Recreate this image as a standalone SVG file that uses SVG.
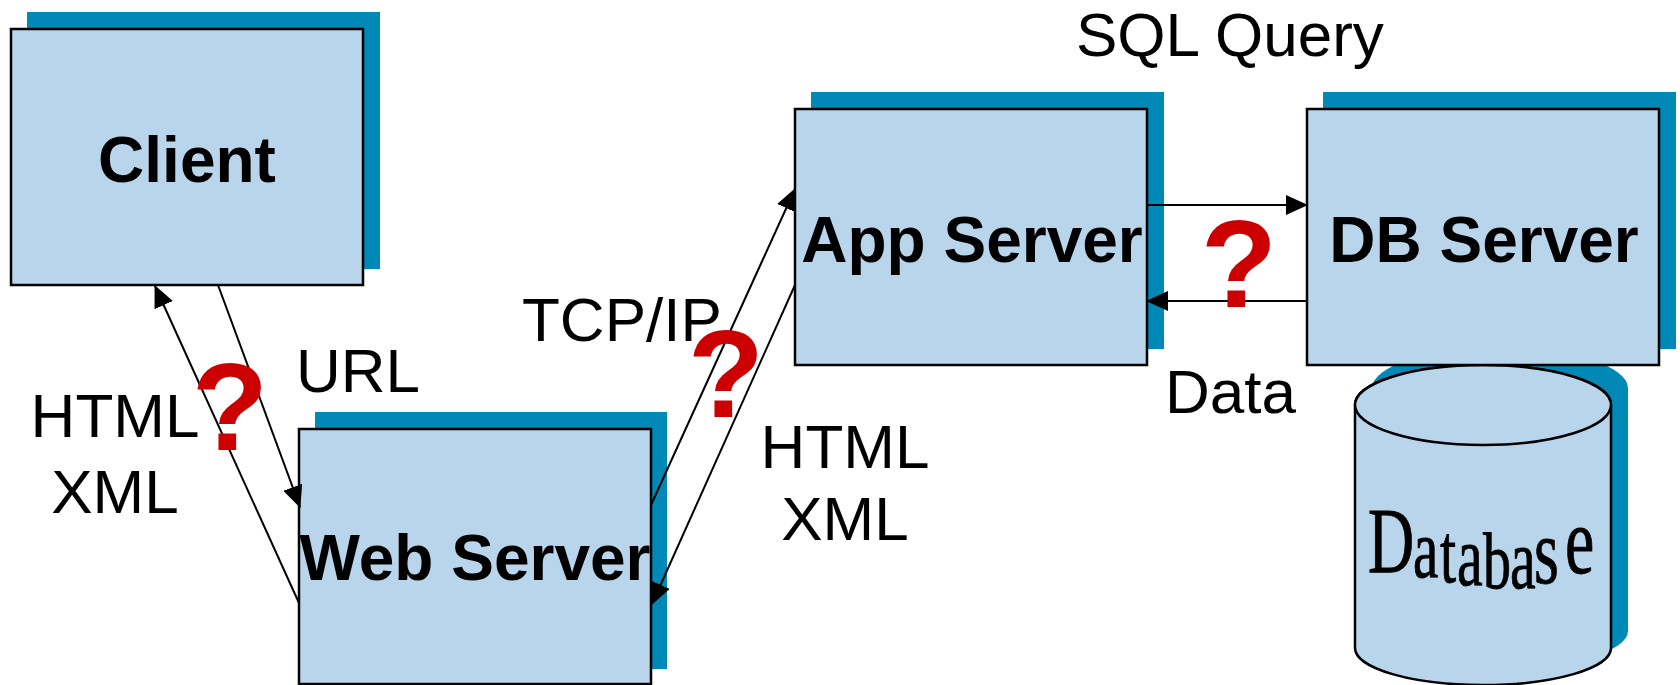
<svg xmlns="http://www.w3.org/2000/svg" width="1680" height="685" viewBox="0 0 1680 685">
  <style>
    .shadow { fill: #0089B7; }
    .box { fill: #B9D5EC; stroke: #000; stroke-width: 2.5; }
    .title { font-family: "Liberation Sans", Arial, sans-serif; font-weight: bold; font-size: 64px; fill: #000; text-anchor: middle; }
    .label { font-family: "Liberation Sans", Arial, sans-serif; font-size: 62px; fill: #000; }
    .mid { text-anchor: middle; }
    .ask { font-family: "Liberation Sans", Arial, sans-serif; font-weight: bold; font-size: 125px; fill: #CC0000; text-anchor: middle; }
    .link { fill: none; stroke: #000; stroke-width: 2; }
    .db { font-family: "Liberation Serif", "Times New Roman", serif; fill: #000; stroke: #000; stroke-width: 0.6; }
  </style>
  <defs>
    <marker id="head" markerUnits="userSpaceOnUse" markerWidth="22" markerHeight="20" viewBox="0 0 22 20" refX="21" refY="10" orient="auto">
      <path d="M0,0 L22,10 L0,20 z" fill="#000"/>
    </marker>
  </defs>

  <rect width="1680" height="685" fill="#fff"/>

  <!-- Client -->
  <g id="client">
    <rect class="shadow" x="27" y="12" width="353" height="257"/>
    <rect class="box" x="11" y="29" width="352" height="256"/>
    <text class="title" x="187" y="182">Client</text>
  </g>

  <!-- Web Server -->
  <g id="web-server">
    <rect class="shadow" x="315" y="412" width="352" height="257"/>
    <rect class="box" x="299" y="429" width="352" height="255"/>
    <text class="title" x="475" y="580" font-size="63">Web Server</text>
  </g>

  <!-- App Server -->
  <g id="app-server">
    <rect class="shadow" x="811" y="92" width="353" height="257"/>
    <rect class="box" x="795" y="109" width="352" height="256"/>
    <text class="title" x="972" y="262">App Server</text>
  </g>

  <!-- Database cylinder, with wave-styled lettering -->
  <g id="database">
    <path class="shadow" d="M1372,388 V631 A128,37 0 0 0 1628,631 V388 A128,40 0 0 0 1372,388 Z"/>
    <path class="box" d="M1355,405 V648 A128,37 0 0 0 1611,648 V405 A128,40 0 0 0 1355,405 Z"/>
    <ellipse class="box" cx="1483" cy="405" rx="128" ry="40"/>
    <text class="db" transform="scale(1,1.45)">
      <tspan x="1368" y="394.5" font-size="64">D</tspan>
      <tspan x="1413" y="397.9" font-size="57">a</tspan>
      <tspan x="1440" y="401.4" font-size="58">t</tspan>
      <tspan x="1457" y="403.4" font-size="58">a</tspan>
      <tspan x="1483" y="405.5" font-size="56">b</tspan>
      <tspan x="1510" y="405.5" font-size="58">a</tspan>
      <tspan x="1534" y="402.1" font-size="64">s</tspan>
      <tspan x="1565" y="395.2" font-size="66">e</tspan>
    </text>
  </g>

  <!-- DB Server -->
  <g id="db-server">
    <rect class="shadow" x="1323" y="92" width="353" height="257"/>
    <rect class="box" x="1307" y="109" width="352" height="256"/>
    <text class="title" x="1484" y="262">DB Server</text>
  </g>

  <!-- Connectors -->
  <g id="connectors">
    <line class="link" x1="218" y1="285" x2="300" y2="507" marker-end="url(#head)"/>
    <line class="link" x1="299" y1="603" x2="155" y2="286" marker-end="url(#head)"/>
    <line class="link" x1="651" y1="505" x2="795" y2="189" marker-end="url(#head)"/>
    <line class="link" x1="795" y1="285" x2="652" y2="604" marker-end="url(#head)"/>
    <line class="link" x1="1147" y1="205" x2="1307" y2="205" marker-end="url(#head)"/>
    <line class="link" x1="1307" y1="301" x2="1147" y2="301" marker-end="url(#head)"/>
  </g>

  <!-- Labels -->
  <g id="labels">
    <text class="label" x="1076" y="56" font-size="63">SQL Query</text>
    <text class="label" x="522" y="341" font-size="63">TCP/IP</text>
    <text class="label" x="296" y="392">URL</text>
    <text class="label mid" x="115" y="437">HTML</text>
    <text class="label mid" x="115" y="513">XML</text>
    <text class="label mid" x="845" y="468">HTML</text>
    <text class="label mid" x="845" y="540">XML</text>
    <text class="label" x="1165" y="413" font-size="61">Data</text>
  </g>

  <!-- Question marks -->
  <g id="questions">
    <text class="ask" x="230" y="450">?</text>
    <text class="ask" x="726" y="417">?</text>
    <text class="ask" x="1239" y="307">?</text>
  </g>
</svg>
